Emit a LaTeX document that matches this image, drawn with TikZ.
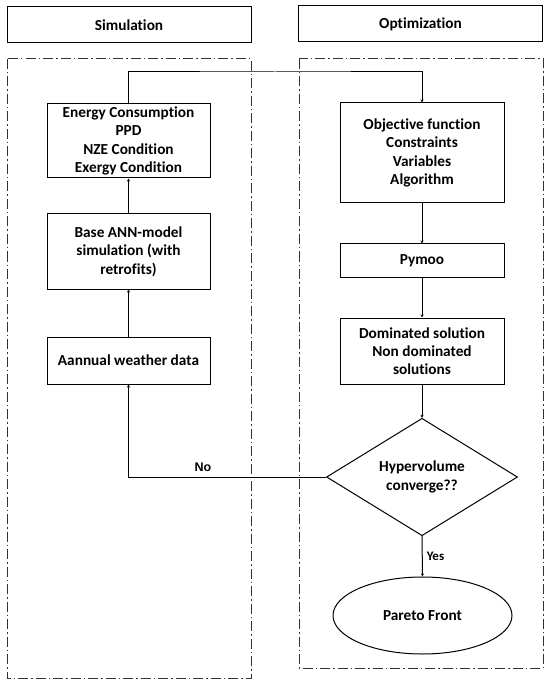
\documentclass[tikz,border=0pt]{standalone}
\usepackage{fontspec}
\setmainfont{Carlito}[Ligatures={NoCommon}]
\newfontfamily\arialfont{Liberation Sans}
\usetikzlibrary{shapes.geometric,arrows.meta}
\begin{document}
\begin{tikzpicture}[x=1pt,y=-1pt,
  every node/.style={font=\fontsize{15.3}{18.3}\selectfont\bfseries, align=center, inner sep=0pt},
  procbox/.style={draw=black, line width=1pt, rectangle, minimum width=163pt},
  headbox/.style={draw=black, line width=1pt, rectangle, minimum width=244pt, minimum height=36pt},
  frame/.style={draw=black!80, line width=1pt, dash pattern=on 10pt off 3pt on 1.5pt off 3pt},
  conn/.style={draw=black, line width=1pt},
  arr/.style={conn, -{Stealth[length=3pt,width=3pt]}},
  lbl/.style={font=\fontsize{13}{14}\selectfont\bfseries}
]
\useasboundingbox (0,0) rectangle (550,684);

% headers
\node[headbox] (simhead) at (129,25) {Simulation};
\node[headbox] (opthead) at (420.5,24) {Optimization};

% dashed frames
\draw[frame] (7,59) rectangle (251,678);
\draw[frame] (299,59) rectangle (543,668);

% simulation column
\node[procbox, minimum height=74pt] (energy) at (128.5,141) {Energy Consumption\\PPD\\NZE Condition\\Exergy Condition};
\node[procbox, minimum height=75pt] (base) at (128.5,251.5) {Base ANN-model\\simulation (with\\retrofits)};
\node[procbox, minimum height=47pt] (weather) at (128.5,360.5) {Aannual weather data};

% optimization column
\node[procbox, minimum width=164pt, minimum height=100pt] (obj) at (422,153) {Objective function\\Constraints\\Variables\\Algorithm};
\node[procbox, minimum width=164pt, minimum height=33pt] (pymoo) at (422,260.5) {Pymoo};
\node[procbox, minimum width=164pt, minimum height=66pt] (dom) at (422,351) {Dominated solution\\Non dominated\\solutions};
\node[draw=black, line width=1pt, diamond, minimum width=191pt, minimum height=115pt] (conv) at (422,477) {Hypervolume\\converge??};
\node[draw=black, line width=1pt, ellipse, minimum width=179pt, minimum height=77pt] (pareto) at (422.5,615.5) {Pareto Front};

% connectors
\coordinate (topturn) at (275,72);
\draw[arr] (weather.north) -- (base.south);
\draw[arr] (base.north) -- (energy.south);
\draw[arr] (energy.north) |- (topturn) -| (obj.north);
\draw[arr] (obj.south) -- (pymoo.north);
\draw[arr] (pymoo.south) -- (dom.north);
\draw[arr] (dom.south) -- (conv.north);
\draw[arr] (conv.south) -- node[lbl, right=4pt] (yes) {Yes} (pareto.north);
\draw[arr] (conv.west) -| (weather.south);
\node[font=\arialfont\fontsize{12.5}{14}\selectfont\bfseries] (no) at (203,467) {No};
\end{tikzpicture}
\end{document}
